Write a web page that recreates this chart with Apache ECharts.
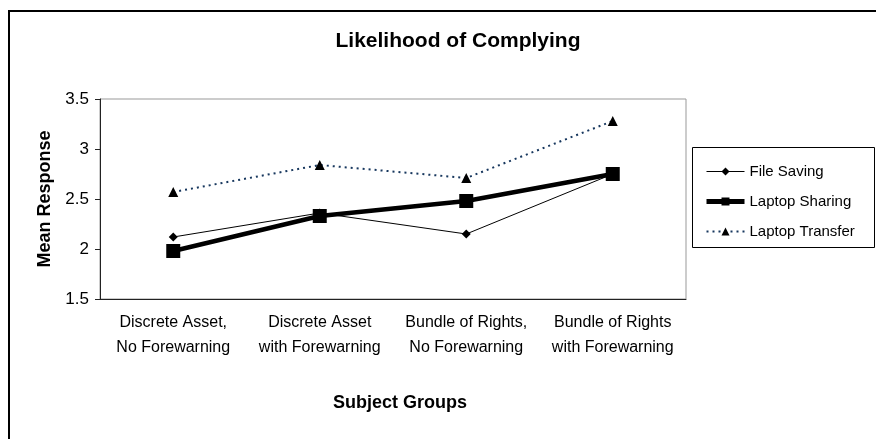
<!DOCTYPE html>
<html>
<head>
<meta charset="utf-8">
<script src="https://cdn.jsdelivr.net/npm/echarts@6/dist/echarts.min.js"></script>
<style>
html,body{margin:0;padding:0;background:#fff;}
#chart{width:876px;height:439px;}
</style>
</head>
<body>
<div id="chart"></div>
<script>
const categories = [
  "Discrete Asset,\nNo Forewarning",
  "Discrete Asset\nwith Forewarning",
  "Bundle of Rights,\nNo Forewarning",
  "Bundle of Rights\nwith Forewarning"
];
const fileSaving = [2.12, 2.36, 2.15, 2.75];
const laptopSharing = [1.98, 2.33, 2.48, 2.75];
const laptopTransfer = [2.57, 2.84, 2.71, 3.28];
const yTicks = { min: 1.5, max: 3.5, interval: 0.5 };

const FONT = "Arial, 'Liberation Sans', sans-serif";
const chart = echarts.init(document.getElementById('chart'));
chart.setOption({
  backgroundColor: '#fff',
  animation: false,
  textStyle: { fontFamily: FONT, color: '#000' },
  title: {
    text: 'Likelihood of Complying',
    left: 453, top: 26, textAlign: 'center',
    textStyle: { fontFamily: FONT, fontSize: 21, fontWeight: 'bold', color: '#000' }
  },
  graphic: [
    { type: 'rect', z: -1, shape: { x: 9, y: 11, width: 1000, height: 1000 },
      style: { fill: 'none', stroke: '#000', lineWidth: 2 } },
    { type: 'rect', shape: { x: 692.5, y: 147.5, width: 182, height: 100 },
      style: { fill: '#fff', stroke: '#000', lineWidth: 1 }, z: 0 }
  ],
  legend: {
    orient: 'vertical',
    left: 699, top: 159,
    itemWidth: 38, itemHeight: 10, itemGap: 15,
    textStyle: { fontFamily: FONT, fontSize: 15, color: '#000' },
    data: [
      { name: 'File Saving', lineStyle: { width: 1 } },
      { name: 'Laptop Sharing', lineStyle: { width: 5 } },
      { name: 'Laptop Transfer', lineStyle: { width: 2 } }
    ],
    z: 5
  },
  grid: {
    left: 100, top: 99, right: 190, bottom: 140,
    show: true, borderColor: '#999', borderWidth: 1, backgroundColor: '#fff'
  },
  xAxis: {
    type: 'category',
    data: categories,
    boundaryGap: true,
    name: 'Subject Groups',
    nameLocation: 'middle',
    nameGap: 95,
    nameTextStyle: { fontFamily: FONT, fontSize: 18, fontWeight: 'bold', color: '#000', padding: [0, 0, 0, 14] },
    axisLine: { lineStyle: { color: '#222', width: 1 } },
    axisTick: { show: false },
    axisLabel: { fontFamily: FONT, fontSize: 16, color: '#000', lineHeight: 25, margin: 11, interval: 0 },
    splitLine: { show: false }
  },
  yAxis: {
    type: 'value',
    min: yTicks.min, max: yTicks.max, interval: yTicks.interval,
    name: 'Mean Response',
    nameLocation: 'middle',
    nameGap: 43,
    nameTextStyle: { fontFamily: FONT, fontSize: 18, fontWeight: 'bold', color: '#000' },
    axisLine: { show: true, lineStyle: { color: '#222', width: 1 } },
    axisTick: { show: true, length: 5, lineStyle: { color: '#222' } },
    axisLabel: { fontFamily: FONT, fontSize: 17, color: '#000', margin: 11 },
    splitLine: { show: false }
  },
  series: [
    {
      name: 'File Saving', type: 'line', data: fileSaving,
      symbol: 'diamond', symbolSize: 9,
      lineStyle: { color: '#000', width: 1 },
      itemStyle: { color: '#000' }, z: 2
    },
    {
      name: 'Laptop Sharing', type: 'line', data: laptopSharing,
      symbol: 'rect', symbolSize: 14,
      lineStyle: { color: '#000', width: 4.5 },
      itemStyle: { color: '#000' }, z: 3
    },
    {
      name: 'Laptop Transfer', type: 'line', data: laptopTransfer,
      symbol: 'triangle', symbolSize: 10,
      lineStyle: { color: '#17375E', width: 2, type: [2, 4] },
      itemStyle: { color: '#000' }, z: 2
    }
  ]
});
</script>
</body>
</html>
